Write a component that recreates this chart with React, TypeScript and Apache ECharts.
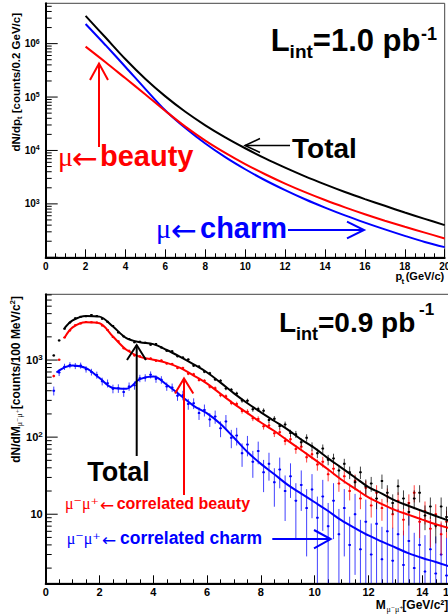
import React, { useEffect, useRef } from "react";
import * as echarts from "echarts";

// ---------- top panel: single-muon pt spectra ----------
const ptBins = [2, 3, 4, 5, 6, 7, 8, 9, 10, 11, 12, 13, 14, 15, 16, 17, 18, 19, 20];
const totalPt = [3.3e6, 1.3e6, 5.1e5, 2.18e5, 1.03e5, 5.3e4, 2.96e4, 1.76e4, 1.1e4, 7.1e3, 4.77e3, 3.28e3, 2.32e3, 1.67e3, 1.23e3, 920, 690, 525, 400];
const beautyPt = [8.8e5, 4.49e5, 2.24e5, 1.12e5, 5.5e4, 2.79e4, 1.53e4, 9.0e3, 5.56e3, 3.59e3, 2.4e3, 1.66e3, 1.18e3, 861, 640, 484, 372, 290, 225];
const charmPt = [2.33e6, 9.35e5, 3.66e5, 1.41e5, 5.6e4, 2.63e4, 1.35e4, 7.5e3, 4.45e3, 2.77e3, 1.81e3, 1.22e3, 851, 608, 446, 333, 252, 194, 155];

// ---------- bottom panel: dimuon invariant mass ----------
const massFit = [0.4, 0.7, 1, 1.5, 2, 2.5, 3, 3.5, 4, 4.5, 5, 5.5, 6, 6.5, 7, 7.5, 8, 8.5, 9, 9.5, 10, 10.5, 11, 11.5, 12, 12.5, 13, 13.5, 14, 14.5, 15];
const totalFit = [null, 2600, 3280, 3740, 3660, 2720, 1920, 1700, 1610, 1350, 1100, 880, 690, 510, 370, 275, 210, 162, 125, 93, 72, 53, 40, 30, 22.5, 18.5, 15, 12.8, 11, 9.5, 8.2];
const beautyFit = [null, 1950, 2650, 3100, 3000, 2020, 1360, 1100, 1010, 920, 790, 630, 495, 365, 270, 205, 155, 120, 90, 68, 51, 38, 28, 21.5, 16.5, 13.5, 11.3, 9.8, 8.5, 7.4, 6.6];
const charmFit = [690, 805, 850, 785, 585, 435, 425, 565, 610, 478, 350, 255, 203, 148, 98, 64, 45, 33, 24, 18.5, 14.3, 11, 8.3, 6.6, 5.3, 4.4, 3.7, 3.1, 2.7, 2.4, 2.1];

// bin centres 0.3 ... 14.9 GeV/c^2
const massBins = Array.from({ length: 74 }, (_, i) => +(0.3 + 0.2 * i).toFixed(1));
const totalData = [
  1150, 1800, 2550, 3070, 3480, 3650, 3710, 3850, 3720, 3430,
  3130, 2770, 2280, 2020, 1870, 1700, 1730, 1680, 1580, 1610,
  1460, 1320, 1300, 1120, 1080, 1020, 845, 825, 705, 675,
  560, 540, 428, 412, 368, 298, 297, 230, 231, 220,
  167, 173, 139, 146, 113, 109, 86, 98, 76, 62,
  71, 51, 53, 37, 45, 35, 26, 35, 23, 25,
  16, 27, 19, 14, 23, 16, 10.7, 16, 19, 9.6,
  12.6, 7.1, 12.6, 9.2,
];
const beautyData = [
  620, 1010, 1960, 2420, 2830, 2990, 3120, 3100, 3080, 2800,
  2460, 1990, 1750, 1420, 1320, 1150, 1120, 1040, 1050, 980,
  990, 900, 890, 790, 790, 665, 655, 550, 540, 450,
  432, 350, 338, 278, 270, 218, 214, 176, 172, 138,
  142, 112, 116, 89, 94, 70, 75, 55, 60, 44,
  48, 33, 39, 25, 31, 20, 27, 16, 22, 13,
  19, 12, 17, 10, 15, 8.5, 14, 19, 8, 11,
  6.5, 10, 5.5, 8,
];
const charmData = [
  400, 690, 820, 860, 840, 850, 760, 700, 640, 530,
  500, 425, 430, 385, 455, 470, 580, 590, 645, 570,
  555, 455, 440, 345, 350, 270, 275, 205, 225, 170,
  185, 130, 160, 98, 105, 62, 80, 48, 66, 35,
  45, 26, 38, 20, 31, 15, 24, 12, 21, 9,
  17, 7, 15, 5.5, 12, 4, 10, 3.5, 8, 3,
  7.5, 2.6, 6, 2.5, 5.5, 2.2, 4.5, 2, 4, 1.8,
  3.5, 1.7, 3, 1.6,
];
// statistical weights used for the error bars
const weightTotal = 1.2;
const weightBeauty = 1.2;
const weightCharm = 7;

const TOP_Y = [100, 5.69e6];
const BOT_Y = [1.27, 7130];

const FONT = "'Liberation Sans', Arial, Helvetica, sans-serif";
const SERIF = "'Liberation Serif', 'DejaVu Serif', serif";
const ARROWF = "'DejaVu Sans', sans-serif";
const RED = "#ff0000";
const BLUE = "#0000ff";
const BLACK = "#000000";

function isPow10(v: number) {
  const l = Math.log10(v);
  return Math.abs(l - Math.round(l)) < 1e-6;
}

function logTicks(min: number, max: number) {
  const out: number[][] = [];
  for (let e = Math.floor(Math.log10(min)); e <= Math.ceil(Math.log10(max)); e++) {
    for (let k = 1; k <= 9; k++) {
      const v = k * Math.pow(10, e);
      if (v >= min && v <= max) out.push([k === 1 ? 1 : 0, v]);
    }
  }
  return out;
}

function tickSeries(idx: number, min: number, max: number) {
  return {
    type: "custom",
    xAxisIndex: idx,
    yAxisIndex: idx,
    silent: true,
    z: 5,
    data: logTicks(min, max),
    renderItem: (_p: any, api: any) => {
      const major = api.value(0);
      const v = api.value(1);
      const p = api.coord([0, v]);
      return {
        type: "line",
        shape: { x1: p[0], y1: p[1], x2: p[0] + (major ? 12 : 6), y2: p[1] },
        style: { stroke: "#000", lineWidth: 1 },
      };
    },
  };
}

function errorSeries(values: number[], w: number, color: string) {
  return {
    type: "custom",
    xAxisIndex: 1,
    yAxisIndex: 1,
    silent: true,
    clip: true,
    z: 2,
    data: massBins.map((m, i) => [m, values[i], Math.sqrt(values[i] * w)]),
    renderItem: (_p: any, api: any) => {
      const m = api.value(0);
      const v = api.value(1);
      const e = api.value(2);
      const c = api.coord([m, v]);
      const hi = api.coord([m, v + e]);
      const lo = api.coord([m, Math.max(v - e, BOT_Y[0])]);
      const l = api.coord([m - 0.05, v]);
      const r = api.coord([m + 0.05, v]);
      return {
        type: "group",
        children: [
          { type: "line", shape: { x1: c[0], y1: hi[1], x2: c[0], y2: lo[1] }, style: { stroke: color, lineWidth: 1, opacity: 0.75 } },
          { type: "line", shape: { x1: l[0], y1: c[1], x2: r[0], y2: c[1] }, style: { stroke: color, lineWidth: 1 } },
          { type: "rect", shape: { x: c[0] - 1, y: c[1] - 1, width: 2, height: 2 }, style: { fill: color } },
        ],
      };
    },
  };
}

function lineSeries(idx: number, xs: number[], ys: (number | null)[], color: string) {
  return {
    type: "line",
    xAxisIndex: idx,
    yAxisIndex: idx,
    data: xs.map((x, i) => [x, ys[i]]).filter((d) => d[1] !== null),
    showSymbol: false,
    smooth: 0.35,
    lineStyle: { color, width: 2 },
    itemStyle: { color },
    z: 3,
    silent: true,
  };
}

function xAxisCfg(idx: number, max: number, fs: number, margin: number) {
  return {
    gridIndex: idx,
    type: "value",
    min: 0,
    max,
    interval: 2,
    axisLine: { show: true, onZero: false, lineStyle: { color: "#000", width: 2 } },
    axisTick: { show: true, inside: true, length: 8, lineStyle: { color: "#000", width: 1 } },
    minorTick: { show: true, splitNumber: 4, length: 4, lineStyle: { color: "#000", width: 1 } },
    axisLabel: { color: "#000", fontSize: fs, fontWeight: "bold", fontFamily: FONT, margin, hideOverlap: false },
    splitLine: { show: false },
    minorSplitLine: { show: false },
  };
}

function yAxisCfg(idx: number, range: number[], fs: number, margin: number, minExp: number) {
  return {
    gridIndex: idx,
    type: "log",
    logBase: 10,
    min: range[0],
    max: range[1],
    axisLine: { show: true, lineStyle: { color: "#000", width: 2 } },
    axisTick: { show: false },
    minorTick: { show: false },
    splitLine: { show: false },
    axisLabel: {
      margin,
      formatter: (v: number) => {
        if (!isPow10(v)) return "";
        const e = Math.round(Math.log10(v));
        if (e < minExp) return "";
        if (e === 1) return "{b|10}";
        return "{b|10}{s|" + e + "}";
      },
      rich: {
        b: { fontSize: fs, fontWeight: "bold", fontFamily: FONT, color: "#000", lineHeight: fs + 2 },
        s: { fontSize: fs - 3, fontWeight: "bold", fontFamily: FONT, color: "#000", lineHeight: fs - 3, verticalAlign: "top" },
      },
    },
  };
}

function txt(text: string, x: number, y: number, size: number, color: string, opts: any = {}) {
  const align = opts.align || "left";
  return {
    type: "text",
    x,
    y,
    rotation: opts.rotation || 0,
    silent: true,
    z: 100,
    style: {
      text,
      fill: color,
      fontSize: size,
      fontWeight: opts.weight || "bold",
      fontFamily: opts.family || FONT,
      align,
      textAlign: align,
      verticalAlign: "middle",
      textVerticalAlign: "middle",
      rich: opts.rich,
    },
  };
}

function arrow(x1: number, y1: number, x2: number, y2: number, head: number[][], color: string, w = 2) {
  return [
    { type: "line", silent: true, z: 100, shape: { x1, y1, x2, y2 }, style: { stroke: color, lineWidth: w } },
    { type: "polyline", silent: true, z: 100, shape: { points: head }, style: { stroke: color, lineWidth: w, fill: "none" } },
  ];
}

export default function App() {
  const ref = useRef<HTMLDivElement>(null);

  useEffect(() => {
    if (!ref.current) return;
    const chart = echarts.init(ref.current, null, { renderer: "svg" });

    const titleRich = (fs: number) => ({
      a: { fontSize: fs, fontWeight: "bold", fontFamily: FONT, color: "#000", lineHeight: fs + 3 },
      s: { fontSize: fs - 4, fontWeight: "bold", fontFamily: FONT, color: "#000", lineHeight: fs - 4, verticalAlign: "bottom" },
      m: { fontSize: fs - 4, fontFamily: SERIF, color: "#000", lineHeight: fs - 4, verticalAlign: "bottom" },
      p: { fontSize: fs - 4, fontWeight: "bold", fontFamily: FONT, color: "#000", lineHeight: fs - 4, verticalAlign: "top" },
    });

    const graphics: any[] = [
      // top panel texts
      txt("L", 270.7, 40.9, 31, BLACK),
      txt("int", 289.6, 51.6, 19, BLACK),
      txt("=1.0 pb", 312.8, 40.9, 31, BLACK),
      txt("-1", 421, 33.7, 18, BLACK),
      txt("Total", 292, 148.2, 28, BLACK),
      ...arrow(245, 145.5, 290, 145.5, [[260, 138.5], [245, 145.5], [260, 152.5]], BLACK, 1.5),
      txt("\u03bc", 58, 156, 28, RED, { weight: "normal", family: SERIF }),
      txt("\u2190", 72, 158, 31, RED, { weight: "normal", family: ARROWF }),
      txt("beauty", 100, 155.8, 29, RED),
      ...arrow(99, 63.5, 99, 147, [[90, 80], [99, 63.5], [108, 80]], RED, 2),
      txt("\u03bc", 156, 228, 28, BLUE, { weight: "normal", family: SERIF }),
      txt("\u2190", 171, 230, 31, BLUE, { weight: "normal", family: ARROWF }),
      txt("charm", 200, 227.8, 29, BLUE),
      ...arrow(288, 230, 364, 230, [[347, 221.7], [364, 230], [347, 238.3]], BLUE, 2),
      // top axis titles
      txt("{a|dN/dp}{s|t}{a| [counts/0.2 GeV/c]}", 16, 13, 11.5, BLACK, { align: "right", rotation: Math.PI / 2, rich: titleRich(11.5) }),
      txt("p", 395.5, 276, 11, BLACK),
      txt("t", 401.5, 281, 8, BLACK),
      txt("(GeV/c)", 405.7, 276, 11, BLACK),

      // bottom panel texts
      txt("L", 279, 322.5, 28, BLACK),
      txt("int", 296.1, 333.6, 18, BLACK),
      txt("=0.9 pb", 318, 322.5, 28, BLACK),
      txt("-1", 419, 309.7, 17, BLACK),
      txt("Total", 87.3, 472.2, 27, BLACK),
      ...arrow(136.7, 345, 136.7, 456, [[127, 360], [136.7, 345], [146, 360]], BLACK, 2),
      ...arrow(184, 378.5, 184, 495, [[175, 393.5], [184, 378.5], [193.3, 393.5]], RED, 2),
      txt("\u03bc\u207b\u03bc\u207a", 65, 503.4, 16, RED, { weight: "normal", family: SERIF }),
      txt("\u2190", 100, 504.5, 17, RED, { weight: "normal", family: ARROWF }),
      txt("correlated beauty", 116.7, 503.4, 16, RED),
      txt("\u03bc\u207b\u03bc\u207a", 66.7, 538.4, 16, BLUE, { weight: "normal", family: SERIF }),
      txt("\u2190", 102, 539.5, 17, BLUE, { weight: "normal", family: ARROWF }),
      txt("correlated charm", 120, 538, 17.5, BLUE),
      ...arrow(272.3, 539, 330.7, 539, [[314, 530], [330.7, 539], [314, 548.3]], BLUE, 2),
      // bottom axis titles
      txt("{a|dN/dM}{m|\u03bc\u207b\u03bc\u207a}{a|[counts/100 MeV/c}{p|2}{a|]}", 16, 296, 12, BLACK, { align: "right", rotation: Math.PI / 2, rich: titleRich(12) }),
      txt("M", 375.7, 604.5, 12, BLACK),
      txt("\u03bc\u207b\u03bc\u207a", 386.5, 609, 8, BLACK, { weight: "normal", family: SERIF }),
      txt("[GeV/c\u00b2]", 402.3, 604.5, 12, BLACK),
    ];

    chart.setOption({
      animation: false,
      backgroundColor: "#ffffff",
      grid: [
        { left: 45.7, top: 3.3, width: 399, height: 254, show: true, borderColor: "#444", borderWidth: 1, backgroundColor: "transparent", containLabel: false, outerBoundsMode: "none" },
        { left: 45.7, top: 294.3, width: 403.5, height: 289, show: true, borderColor: "#444", borderWidth: 1, backgroundColor: "transparent", containLabel: false, outerBoundsMode: "none" },
      ],
      xAxis: [xAxisCfg(0, 20, 10, 4), xAxisCfg(1, 15, 11, 3)],
      yAxis: [yAxisCfg(0, TOP_Y, 10, 6, 3), yAxisCfg(1, BOT_Y, 11, 3, 1)],
      series: [
        tickSeries(0, TOP_Y[0], TOP_Y[1]),
        tickSeries(1, BOT_Y[0], BOT_Y[1]),
        lineSeries(0, ptBins, charmPt, BLUE),
        lineSeries(0, ptBins, beautyPt, RED),
        lineSeries(0, ptBins, totalPt, BLACK),
        errorSeries(charmData, weightCharm, BLUE),
        errorSeries(beautyData, weightBeauty, RED),
        errorSeries(totalData, weightTotal, BLACK),
        lineSeries(1, massFit, charmFit, BLUE),
        lineSeries(1, massFit, beautyFit, RED),
        lineSeries(1, massFit, totalFit, BLACK),
      ],
      graphic: graphics,
    });

    return () => chart.dispose();
  }, []);

  return (
    <div
      ref={ref}
      style={{ position: "absolute", left: 0, top: 0, width: 448, height: 616, background: "#fff" }}
    />
  );
}
